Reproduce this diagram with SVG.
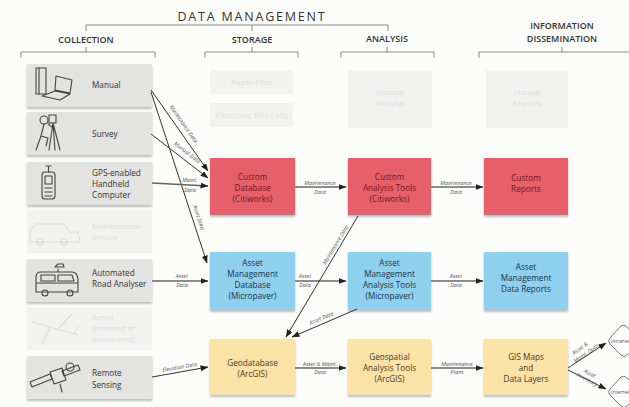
<svg xmlns="http://www.w3.org/2000/svg" width="629" height="407" viewBox="0 0 629 407">
  <defs>
    <style>
      .hdr { font-family: "Open Sans", "Liberation Sans", sans-serif; font-size: 9px; font-weight: 600; fill: #333; text-anchor: middle; }
      .title { font-family: "Open Sans", "Liberation Sans", sans-serif; font-size: 12.5px; fill: #333; text-anchor: middle; letter-spacing: 1.8px; }
      .brk { fill: none; stroke: #888; stroke-width: 1; }
      .col { fill: #e3e3e1; }
      .fade { fill: #f2f2f0; }
      .ftxt { font-family: "Open Sans", "Liberation Sans", sans-serif; font-size: 8px; fill: #dcdcda; }
      .ctxt { font-family: "Open Sans", "Liberation Sans", sans-serif; font-size: 8.2px; fill: #333; }
      .red { fill: #e65f69; }
      .blue { fill: #8ed0ee; }
      .yel { fill: #fbe2a6; }
      .rt { font-family: "Open Sans", "Liberation Sans", sans-serif; font-size: 8.2px; fill: #6e1820; text-anchor: middle; }
      .bt { font-family: "Open Sans", "Liberation Sans", sans-serif; font-size: 8.2px; fill: #223344; text-anchor: middle; }
      .yt { font-family: "Open Sans", "Liberation Sans", sans-serif; font-size: 8.2px; fill: #4a3a22; text-anchor: middle; }
      .icon { fill: none; stroke: #444; stroke-width: 1.1; stroke-linejoin: round; stroke-linecap: round; }
      .ficon { fill: none; stroke: #dcdcda; stroke-width: 1.1; stroke-linejoin: round; }
      .hl { fill: none; stroke: #666; stroke-width: 1.6; marker-end: url(#ah); }
      .dl { fill: none; stroke: #333; stroke-width: 1; marker-end: url(#ah); }
      .lbl { font-family: "Open Sans", "Liberation Sans", sans-serif; font-size: 5.5px; font-style: italic; fill: #555; text-anchor: middle; }
      .dia { fill: #fff; stroke: #777; stroke-width: 1; }
      .dt { font-family: "Open Sans", "Liberation Sans", sans-serif; font-size: 5px; fill: #555; }
    </style>
    <marker id="ah" markerWidth="8" markerHeight="6" refX="7.5" refY="3" orient="auto" markerUnits="userSpaceOnUse">
      <path d="M0,0 L8,3 L0,6 z" fill="#222"/>
    </marker>
    <filter id="sh" x="-10%" y="-10%" width="120%" height="130%">
      <feDropShadow dx="0" dy="2" stdDeviation="1.2" flood-color="#000" flood-opacity="0.25"/>
    </filter>
  </defs>

  <rect width="629" height="407" fill="#fcfcfa"/>

  <!-- headings and brackets -->
  <g id="headings">
    <text class="title" x="252" y="21">DATA MANAGEMENT</text>
    <path class="brk" d="M86,31 V25 H388 V31 M252,25 V31"/>
    <text class="hdr" x="86" y="43">COLLECTION</text>
    <text class="hdr" x="252" y="43">STORAGE</text>
    <text class="hdr" x="387" y="42">ANALYSIS</text>
    <text class="hdr" x="562" y="29">INFORMATION</text>
    <text class="hdr" x="562" y="42">DISSEMINATION</text>
    <path class="brk" d="M21,58 V52 H155 V58 M86,52 V47"/>
    <path class="brk" d="M205,58 V52 H298 V58 M252,52 V47"/>
    <path class="brk" d="M341,58 V52 H434 V58 M387,52 V47"/>
    <path class="brk" d="M479,58 V52 H629 M562,52 V47"/>
  </g>

  <!-- collection sources -->
  <g id="manual">
    <rect class="col" x="27" y="64" width="125" height="43" filter="url(#sh)"/>
    <rect class="icon" x="36" y="68" width="10" height="26"/>
    <path class="icon" d="M39,68 V94 M56,76 L72,80 L70,93 L55,90 Z M42,96 L55,91 L70,94 L60,100 Z"/>
    <text class="ctxt" x="92" y="88">Manual</text>
  </g>
  <g id="survey">
    <rect class="col" x="27" y="112" width="125" height="43" filter="url(#sh)"/>
    <circle class="icon" cx="44" cy="120" r="4"/>
    <rect class="icon" x="49" y="115" width="7" height="8"/>
    <path class="icon" d="M44,124 L41,136 L48,138 L46,146 M41,136 L36,150 M48,124 L52,127 M53,123 L49,150 M53,123 L55,150 M53,123 L60,150"/>
    <text class="ctxt" x="92" y="137">Survey</text>
  </g>
  <g id="gps">
    <rect class="col" x="27" y="162" width="125" height="43" filter="url(#sh)"/>
    <rect class="icon" x="42" y="172" width="13" height="27" rx="3"/>
    <rect class="icon" x="45" y="176" width="7" height="8"/>
    <path class="icon" d="M48.5,172 V167 M46,166 H51 M45,188 H52 M45,192 H52 M45,196 H52"/>
    <text class="ctxt" x="92" y="176">GPS-enabled</text>
    <text class="ctxt" x="92" y="187">Handheld</text>
    <text class="ctxt" x="92" y="198">Computer</text>
  </g>
  <g id="maintenance-vehicle">
    <rect class="fade" x="27" y="210" width="125" height="43"/>
    <path class="ficon" d="M30,242 V230 L36,224 H64 L70,232 H78 L80,242 Z"/>
    <circle class="ficon" cx="40" cy="242" r="3"/>
    <circle class="ficon" cx="64" cy="242" r="3"/>
    <text class="ftxt" x="92" y="229">Maintenance</text>
    <text class="ftxt" x="92" y="240">Vehicle</text>
  </g>
  <g id="automated-road-analyser">
    <rect class="col" x="27" y="259" width="125" height="43" filter="url(#sh)"/>
    <path class="icon" d="M36,292 V277 Q36,272 41,272 H72 Q77,272 78,279 V292 Z M36,283 H78 M41,275 H55 V281 H41 Z M58,275 H72 L74,281 H58 Z M58,272 V269 M55,267 H64 L63,264 H58 Z"/>
    <circle class="icon" cx="45" cy="293" r="3"/>
    <circle class="icon" cx="70" cy="293" r="3"/>
    <text class="ctxt" x="92" y="276">Automated</text>
    <text class="ctxt" x="92" y="287">Road Analyser</text>
  </g>
  <g id="aerial">
    <rect class="fade" x="27" y="307" width="125" height="43"/>
    <path class="ficon" d="M32,322 L78,335 M50,327 L42,345 M58,329 L72,314 M74,334 L78,326"/>
    <text class="ftxt" x="92" y="320">Aerial</text>
    <text class="ftxt" x="92" y="331">(manned or</text>
    <text class="ftxt" x="92" y="342">unmanned)</text>
  </g>
  <g id="remote-sensing">
    <rect class="col" x="27" y="356" width="125" height="43" filter="url(#sh)"/>
    <path class="icon" d="M30,382 L50,374 L52,379 L32,387 Z M62,371 L78,365 L80,370 L64,376 Z M50,372 L62,368 L66,380 L54,384 Z M60,384 L62,392"/>
    <circle class="icon" cx="70" cy="367" r="4"/>
    <text class="ctxt" x="92" y="376">Remote</text>
    <text class="ctxt" x="92" y="388">Sensing</text>
  </g>

  <!-- storage -->
  <g id="paper-files">
    <rect class="fade" x="210" y="70" width="83" height="24"/>
    <text class="ftxt" x="251.5" y="85" text-anchor="middle">Paper Files</text>
  </g>
  <g id="electronic-files">
    <rect class="fade" x="210" y="103" width="83" height="24"/>
    <text class="ftxt" x="251.5" y="118" text-anchor="middle">Electronic files (.xls)</text>
  </g>
  <g id="custom-database">
    <rect class="red" x="210" y="158" width="85" height="57" filter="url(#sh)"/>
    <text class="rt" x="252.5" y="180">Custom</text>
    <text class="rt" x="252.5" y="191">Database</text>
    <text class="rt" x="252.5" y="202">(Citiworks)</text>
  </g>
  <g id="asset-management-database">
    <rect class="blue" x="210" y="252" width="85" height="58" filter="url(#sh)"/>
    <text class="bt" x="252.5" y="266">Asset</text>
    <text class="bt" x="252.5" y="277">Management</text>
    <text class="bt" x="252.5" y="288">Database</text>
    <text class="bt" x="252.5" y="299">(Micropaver)</text>
  </g>
  <g id="geodatabase">
    <rect class="yel" x="210" y="339" width="85" height="56" filter="url(#sh)"/>
    <text class="yt" x="252.5" y="366">Geodatabase</text>
    <text class="yt" x="252.5" y="377">(ArcGIS)</text>
  </g>

  <!-- analysis -->
  <g id="manual-analysis">
    <rect class="fade" x="348" y="70" width="84" height="58"/>
    <text class="ftxt" x="390" y="95" text-anchor="middle">Manual</text>
    <text class="ftxt" x="390" y="106" text-anchor="middle">Analysis</text>
  </g>
  <g id="custom-analysis-tools">
    <rect class="red" x="348" y="158" width="83" height="57" filter="url(#sh)"/>
    <text class="rt" x="389.5" y="180">Custom</text>
    <text class="rt" x="389.5" y="191">Analysis Tools</text>
    <text class="rt" x="389.5" y="202">(Citiworks)</text>
  </g>
  <g id="asset-management-analysis-tools">
    <rect class="blue" x="348" y="252" width="83" height="58" filter="url(#sh)"/>
    <text class="bt" x="389.5" y="266">Asset</text>
    <text class="bt" x="389.5" y="277">Management</text>
    <text class="bt" x="389.5" y="288">Analysis Tools</text>
    <text class="bt" x="389.5" y="299">(Micropaver)</text>
  </g>
  <g id="geospatial-analysis-tools">
    <rect class="yel" x="348" y="339" width="83" height="56" filter="url(#sh)"/>
    <text class="yt" x="389.5" y="360">Geospatial</text>
    <text class="yt" x="389.5" y="371">Analysis Tools</text>
    <text class="yt" x="389.5" y="382">(ArcGIS)</text>
  </g>

  <!-- dissemination -->
  <g id="manual-reports">
    <rect class="fade" x="486" y="70" width="82" height="58"/>
    <text class="ftxt" x="527" y="95" text-anchor="middle">Manual</text>
    <text class="ftxt" x="527" y="106" text-anchor="middle">Reports</text>
  </g>
  <g id="custom-reports">
    <rect class="red" x="484" y="158" width="84" height="57" filter="url(#sh)"/>
    <text class="rt" x="526" y="181">Custom</text>
    <text class="rt" x="526" y="192">Reports</text>
  </g>
  <g id="asset-management-data-reports">
    <rect class="blue" x="484" y="252" width="84" height="58" filter="url(#sh)"/>
    <text class="bt" x="526" y="270">Asset</text>
    <text class="bt" x="526" y="281">Management</text>
    <text class="bt" x="526" y="292">Data Reports</text>
  </g>
  <g id="gis-maps">
    <rect class="yel" x="484" y="339" width="84" height="56" filter="url(#sh)"/>
    <text class="yt" x="526" y="360">GIS Maps</text>
    <text class="yt" x="526" y="371">and</text>
    <text class="yt" x="526" y="382">Data Layers</text>
  </g>
  <g id="intranet">
    <path class="dia" d="M621,326 Q624,324 627,327 L638,338 Q641,341 638,344 L627,355 Q624,358 621,355 L610,344 Q607,341 610,338 Z"/>
    <text class="dt" x="611" y="343">Intranet</text>
  </g>
  <g id="internet">
    <path class="dia" d="M621,377 Q624,375 627,378 L638,389 Q641,392 638,395 L627,406 Q624,409 621,406 L610,395 Q607,392 610,389 Z"/>
    <text class="dt" x="611" y="394">Internet</text>
  </g>

  <!-- connectors -->
  <g id="connectors">
    <path class="dl" d="M151,90 L208,171"/>
    <path class="dl" d="M151,92 L207,263"/>
    <path class="dl" d="M151,134 L208,178"/>
    <path class="hl" d="M152,183 L208,186"/>
    <path class="hl" d="M152,281 L208,281"/>
    <path class="dl" d="M152,377 L208,367"/>
    <path class="hl" d="M295,187 L346,187"/>
    <path class="hl" d="M431,187 L483,187"/>
    <path class="hl" d="M295,281 L346,281"/>
    <path class="hl" d="M431,281 L483,281"/>
    <path class="hl" d="M295,368 L346,368"/>
    <path class="hl" d="M431,368 L483,368"/>
    <path class="dl" d="M358,216 L286,337"/>
    <path class="dl" d="M357,309 L292,337"/>
    <path class="dl" d="M568,368 L606,343"/>
    <path class="dl" d="M568,370 L606,389"/>

    <text class="lbl" transform="translate(182,125) rotate(54.8)">Maintenance Data</text>
    <text class="lbl" transform="translate(197,218) rotate(72)">Asset Data</text>
    <text class="lbl" transform="translate(186,154) rotate(37.7)">Manual Data</text>
    <text class="lbl" x="190" y="182">Maint.</text>
    <text class="lbl" x="190" y="192">Data</text>
    <text class="lbl" x="182" y="278">Asset</text>
    <text class="lbl" x="182" y="287">Data</text>
    <text class="lbl" transform="translate(180,369) rotate(-10)">Elevation Data</text>
    <text class="lbl" x="320" y="185">Maintenance</text>
    <text class="lbl" x="320" y="194">Data</text>
    <text class="lbl" x="456" y="185">Maintenance</text>
    <text class="lbl" x="456" y="194">Data</text>
    <text class="lbl" x="305" y="278">Asset</text>
    <text class="lbl" x="305" y="287">Data</text>
    <text class="lbl" x="456" y="278">Asset</text>
    <text class="lbl" x="456" y="287">Data</text>
    <text class="lbl" x="320" y="366">Asset &amp; Maint.</text>
    <text class="lbl" x="320" y="374">Data</text>
    <text class="lbl" x="457" y="366">Maintenance</text>
    <text class="lbl" x="457" y="374">Plans</text>
    <text class="lbl" transform="translate(337,246) rotate(-59)">Maintenance Data</text>
    <text class="lbl" transform="translate(322,320) rotate(-23)">Asset Data</text>
    <text class="lbl" transform="translate(581,350) rotate(-35)">Asset &amp;</text>
    <text class="lbl" transform="translate(587,355) rotate(-35)">Maint. Data</text>
    <text class="lbl" transform="translate(589,375) rotate(29)">Asset</text>
    <text class="lbl" transform="translate(586,381) rotate(29)">Inventory</text>
  </g>
</svg>
